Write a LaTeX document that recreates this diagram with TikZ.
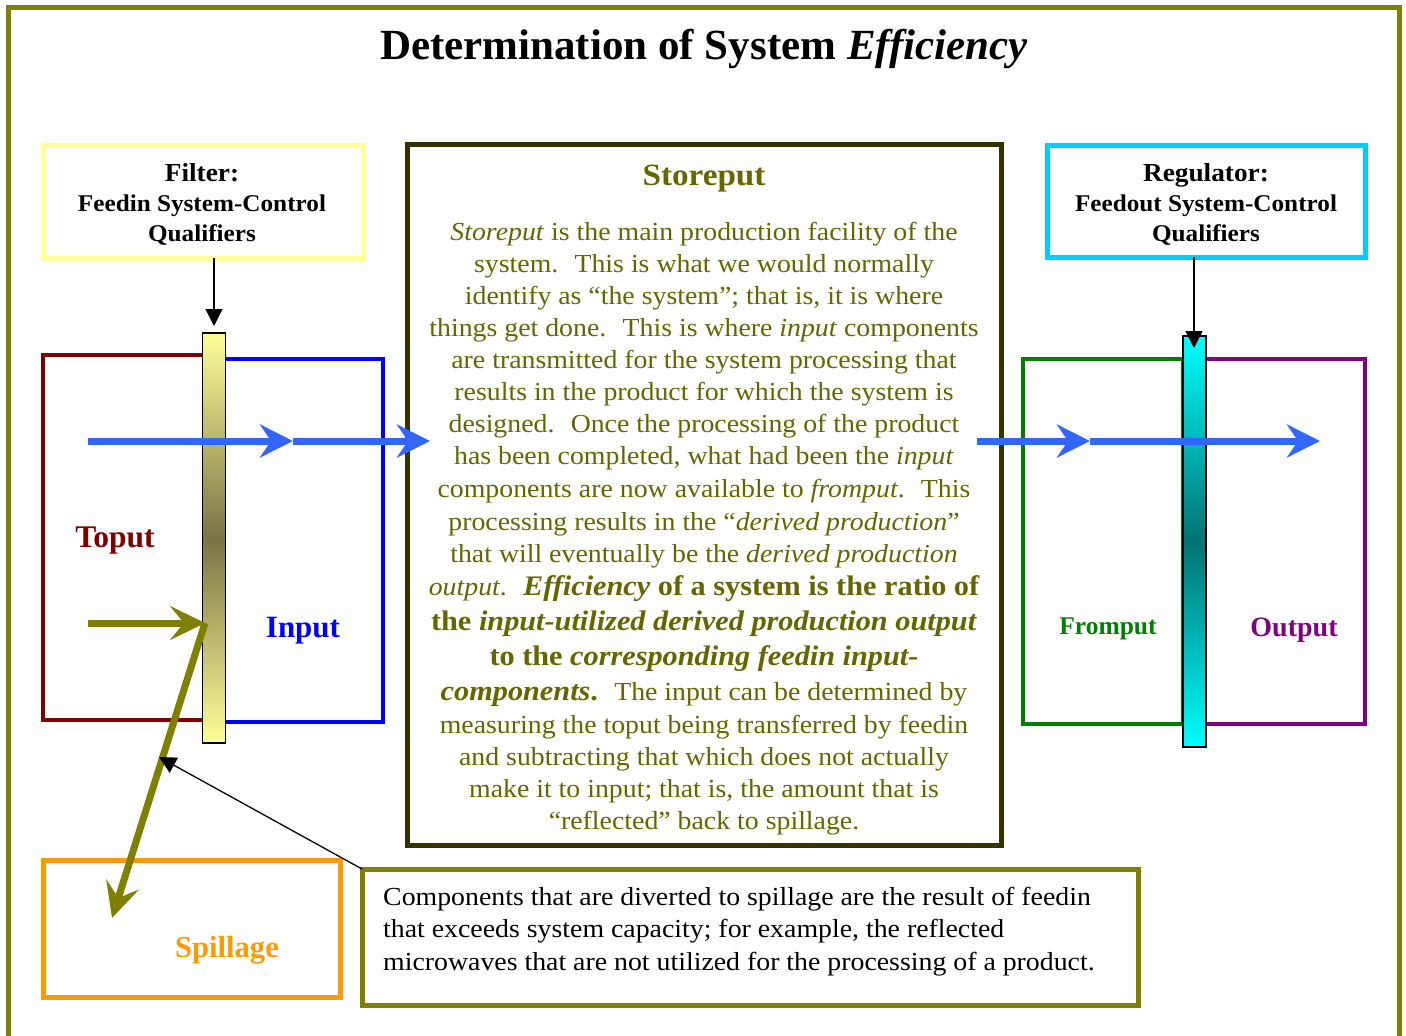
\documentclass[tikz,border=0pt]{standalone}
\usepackage{fontspec}
\setmainfont{Liberation Serif}
\newfontfamily\bodyfont[FakeStretch=1.07]{Liberation Serif}
\newfontfamily\hdrfont[FakeStretch=1.05]{Liberation Serif}
\usetikzlibrary{arrows.meta}
\definecolor{cFrame}{HTML}{808000}
\definecolor{cFilter}{HTML}{FFFF99}
\definecolor{cStoreB}{HTML}{333300}
\definecolor{cStoreT}{HTML}{666600}
\definecolor{cToput}{HTML}{800000}
\definecolor{cInput}{HTML}{0000FF}
\definecolor{cArrow}{HTML}{3366FF}
\definecolor{cReg}{HTML}{00CCFF}
\definecolor{cFrom}{HTML}{008000}
\definecolor{cOut}{HTML}{800080}
\definecolor{cSpill}{HTML}{FF9900}
\definecolor{cBarMid}{HTML}{7A7444}
\definecolor{cTeal}{HTML}{007373}
\definecolor{cCyan}{HTML}{00FFFF}
\newcommand{\fs}[1]{\fontsize{#1}{#1}\selectfont}
\newcommand{\bigb}[1]{{\bfseries\fontsize{28.3}{28.3}\selectfont #1}}
\begin{document}
\begin{tikzpicture}[x=1pt,y=-1pt,
  box/.style={draw, rectangle, outer sep=0pt, inner sep=0pt, anchor=north west},
  bar/.style={draw=black, line width=1.2pt, rectangle, outer sep=0pt, inner sep=0pt, anchor=north west, minimum width=23pt},
  lbl/.style={anchor=base, inner sep=0pt, font=\bfseries\fs{31}},
  hdr/.style={anchor=base, inner sep=0pt, font=\hdrfont\bfseries\fs{24}},
  hdrtop/.style={anchor=base, inner sep=0pt, font=\hdrfont\bfseries\fs{26}},
  st/.style={anchor=base, inner sep=0pt, text=cStoreT, font=\bodyfont\fs{26}},
  nt/.style={anchor=base west, inner sep=0pt, font=\bodyfont\fs{26}},
  bluearrow/.style={draw=cArrow, line width=7pt, -{Stealth[length=33pt,width=33pt,inset=11pt]}},
  olivearrow/.style={draw=cFrame, line width=7pt, -{Stealth[length=35pt,width=34pt,inset=14pt]}},
  blackarrow/.style={draw=black, line width=1.3pt, -{Triangle[length=17pt,width=17pt]}},
]
\useasboundingbox (0,0) rectangle (1406,1036);
\fill[white] (0,0) rectangle (1406,1036);
\draw[cFrame, line width=5pt] (8,1045) -- (8,7) -- (1399,7) -- (1399,1045);

% title
\node[anchor=base, inner sep=0pt, font=\bfseries\fs{43}] (title) at (704,59) {Determination of System \textit{Efficiency}};

% filter box
\node[box, draw=cFilter, line width=5pt, minimum width=320pt, minimum height=113pt] (filter) at (43,145) {};
\node[hdrtop] (filterA) at (202,181) {Filter:};
\node[hdr] (filterB) at (202,211) {Feedin System-Control};
\node[hdr] (filterC) at (202,241) {Qualifiers};

% regulator box
\node[box, draw=cReg, line width=5pt, minimum width=318pt, minimum height=112pt] (reg) at (1047,145) {};
\node[hdrtop] (regA) at (1206,181) {Regulator:};
\node[hdr] (regB) at (1206,211) {Feedout System-Control};
\node[hdr] (regC) at (1206,241) {Qualifiers};

% toput / input
\node[box, draw=cToput, line width=4pt, minimum width=161pt, minimum height=365pt] (toput) at (43,355) {};
\node[box, draw=cInput, line width=4pt, minimum width=159pt, minimum height=363pt] (input) at (224,359) {};
\node[lbl, text=cToput, font=\bfseries\fs{31.5}] (toputL) at (115,547) {Toput};
\node[lbl, text=cInput] (inputL) at (303,637) {Input};
\node[bar, minimum height=410pt, top color=cFilter, bottom color=cFilter, middle color=cBarMid] (fbar) at (202.5,333) {};

% fromput / output
\node[box, draw=cFrom, line width=4pt, minimum width=160pt, minimum height=365pt] (fromput) at (1023,359) {};
\node[box, draw=cOut, line width=4pt, minimum width=160pt, minimum height=365pt] (output) at (1205,359) {};
\node[lbl, text=cFrom, font=\bfseries\fs{25.5}] (fromputL) at (1108,634) {Fromput};
\node[lbl, text=cOut, font=\bfseries\fs{28}] (outputL) at (1294,636) {Output};
\node[bar, minimum height=411pt, top color=cCyan, bottom color=cCyan, middle color=cTeal] (rbar) at (1183,336) {};

% storeput
\node[box, draw=cStoreB, line width=5pt, minimum width=594pt, minimum height=701pt] (store) at (407,144) {};
\node[anchor=base, inner sep=0pt, text=cStoreT, font=\bodyfont\bfseries\fs{31}] (storeT) at (704,185) {Storeput};
\node[st] (s1) at (704,240) {\textit{Storeput} is the main production facility of the};
\node[st] (s2) at (704,272) {system.~ This is what we would normally};
\node[st] (s3) at (704,304) {identify as “the system”; that is, it is where};
\node[st] (s4) at (704,336) {things get done.~ This is where \textit{input} components};
\node[st] (s5) at (704,368) {are transmitted for the system processing that};
\node[st] (s6) at (704,400) {results in the product for which the system is};
\node[st] (s7) at (704,432) {designed.~ Once the processing of the product};
\node[st] (s8) at (704,464) {has been completed, what had been the \textit{input}};
\node[st] (s9) at (704,497) {components are now available to \textit{fromput}.~ This};
\node[st] (s10) at (704,530) {processing results in the “\textit{derived production}”};
\node[st] (s11) at (704,562) {that will eventually be the \textit{derived production}};
\node[st] (s12) at (704,595) {\textit{output}.~ \bigb{\textit{Efficiency} of a system is the ratio of}};
\node[st] (s13) at (704,630) {\bigb{the \textit{input-utilized derived production output}}};
\node[st] (s14) at (704,665) {\bigb{to the \textit{corresponding feedin input-}}};
\node[st] (s15) at (704,700) {\bigb{\textit{components}.}~ The input can be determined by};
\node[st] (s16) at (704,733) {measuring the toput being transferred by feedin};
\node[st] (s17) at (704,765) {and subtracting that which does not actually};
\node[st] (s18) at (704,797) {make it to input; that is, the amount that is};
\node[st] (s19) at (704,829) {“reflected” back to spillage.};

% spillage
\node[box, draw=cSpill, line width=5pt, minimum width=297pt, minimum height=137pt] (spill) at (43,860) {};
\node[lbl, text=cSpill, font=\bfseries\fs{30.6}] (spillL) at (227,957) {Spillage};

% note
\node[box, draw=cFrame, line width=5pt, minimum width=776pt, minimum height=136pt] (note) at (362,869) {};
\node[nt] (n1) at (383,905) {Components that are diverted to spillage are the result of feedin};
\node[nt] (n2) at (383,937) {that exceeds system capacity; for example, the reflected};
\node[nt] (n3) at (383,970) {microwaves that are not utilized for the processing of a product.};

% connector points
\coordinate (b1) at (88,441);
\coordinate (b2) at (293,441);
\coordinate (b3) at (430,441);
\coordinate (b4) at (977,441);
\coordinate (b5) at (1090,441);
\coordinate (b6) at (1320,441);
\coordinate (o1) at (88,623);
\coordinate (o2) at (205,623);
\coordinate (o3) at (112,918);
\coordinate (k1) at (159,757);
\coordinate (fTip) at (214,326);
\coordinate (rTip) at (1194,348);

% arrows
\draw[bluearrow] (b1) -- (b2);
\draw[bluearrow] (b2) -- (b3);
\draw[bluearrow] (b4) -- (b5);
\draw[bluearrow] (b5) -- (b6);
\draw[olivearrow] (o1) -- (o2);
\draw[olivearrow] (o2) -- (o3);
\draw[blackarrow] (filter.south -| fTip) -- (fTip);
\draw[blackarrow] (reg.south -| rTip) -- (rTip);
\draw[blackarrow] (note.north west) -- (k1);
\end{tikzpicture}
\end{document}
